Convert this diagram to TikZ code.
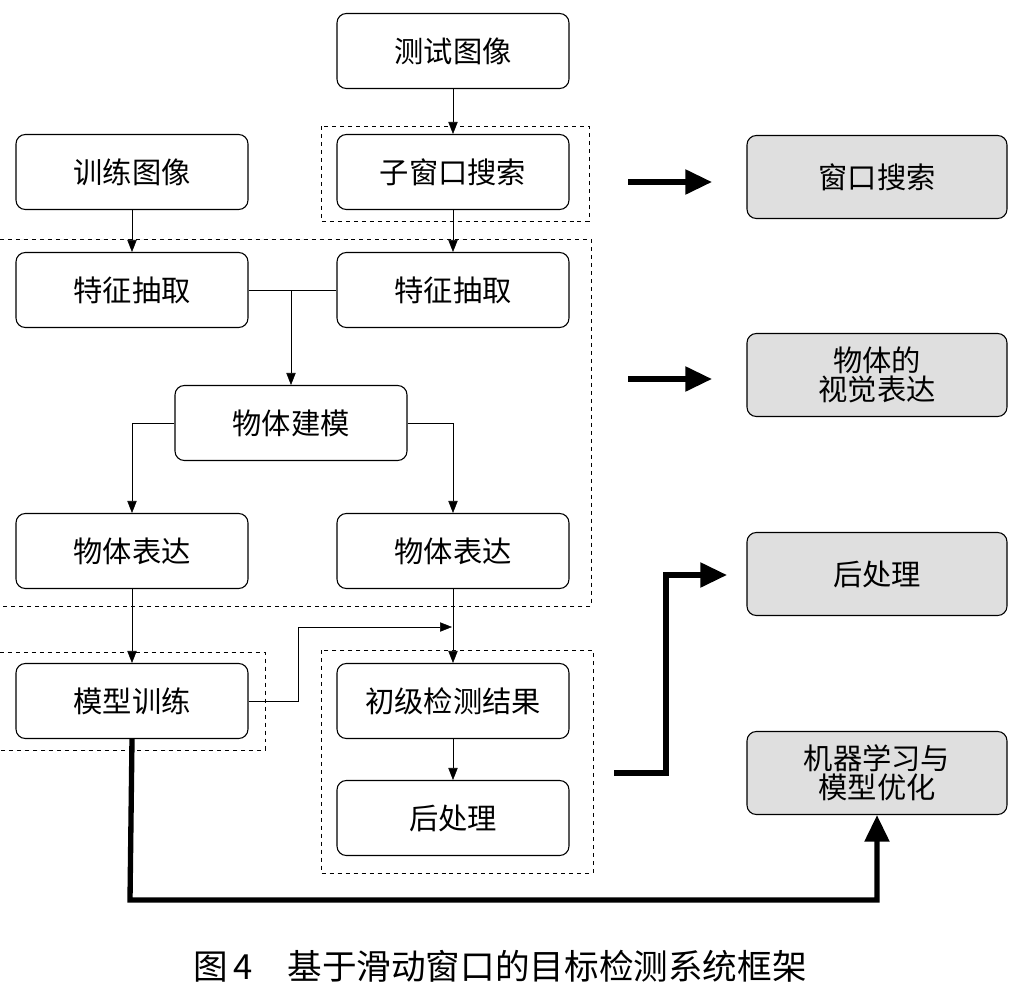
\documentclass[tikz,border=0pt]{standalone}
\usepackage{fontspec}
\setmainfont{Noto Sans CJK SC}
\usetikzlibrary{arrows.meta}
\begin{document}
\begin{tikzpicture}[x=0.0264cm,y=-0.0264cm,
 box/.style={draw,thick,rounded corners=7pt,minimum width=232*0.0264cm,minimum height=75*0.0264cm,font=\fontsize{22}{26}\selectfont,align=center,inner sep=0pt},
 gbox/.style={box,fill=gray!25,minimum width=260*0.0264cm,minimum height=83*0.0264cm},
 dbox/.style={draw,dashed,thin},
 ar/.style={-{Triangle[length=9pt,width=7pt]}},
 thk/.style={line width=4pt,-{Triangle[length=20pt,width=18pt]}}]
\useasboundingbox (0,0) rectangle (1012,994);
\node[box] (test) at (453,51) {测试图像};
\node[box] (train) at (132,172) {训练图像};
\node[box] (sub) at (453,172) {子窗口搜索};
\node[box] (f1) at (132,290) {特征抽取};
\node[box] (f2) at (453,290) {特征抽取};
\node[box] (m) at (291,423) {物体建模};
\node[box] (e1) at (132,551) {物体表达};
\node[box] (e2) at (453,551) {物体表达};
\node[box] (t) at (132,701) {模型训练};
\node[box] (d) at (453,701) {初级检测结果};
\node[box] (p) at (453,818) {后处理};
\node[gbox] (g1) at (877,177) {窗口搜索};
\node[gbox] (g2) at (877,375) {物体的\\[-4pt]视觉表达};
\node[gbox] (g3) at (877,574) {后处理};
\node[gbox] (g4) at (877,773) {机器学习与\\[-4pt]模型优化};
\draw[dbox] (321,126) rectangle (589,221);
\draw[dbox] (0,239) -- (591,239) -- (591,606) -- (0,606);
\draw[dbox] (0,652) -- (265,652) -- (265,750) -- (0,750);
\draw[dbox] (321,650) rectangle (593,873);
\draw[ar] (test) -- (sub);
\draw[ar] (train) -- (f1);
\draw[ar] (sub) -- (f2);
\draw (f1) -- (f2);
\coordinate (j) at (291,290);
\draw[ar] (j) -- (m);
\draw[ar] (m.west) -| (e1.north);
\draw[ar] (m.east) -| (e2.north);
\draw[ar] (e1) -- (t);
\draw[ar] (e2) -- (d);
\draw[ar] (d) -- (p);
\coordinate (k) at (452,627);
\draw[ar] (t.east) -- (298,701) -- (298,627) -- (k);
\coordinate (a1) at (628,182); \coordinate (b1) at (712,182);
\coordinate (a2) at (628,379); \coordinate (b2) at (712,379);
\coordinate (a3) at (614,773); \coordinate (b3) at (727,575);
\draw[thk] (a1) -- (b1);
\draw[thk] (a2) -- (b2);
\draw[thk] (a3) -- (666,773) |- (b3);
\draw[thk] (t.south) -- (130,900) -| (g4.south);
\node[font=\fontsize{26}{30}\selectfont] (cap) at (500,966) {图\,4\quad 基于滑动窗口的目标检测系统框架};
\end{tikzpicture}
\end{document}
